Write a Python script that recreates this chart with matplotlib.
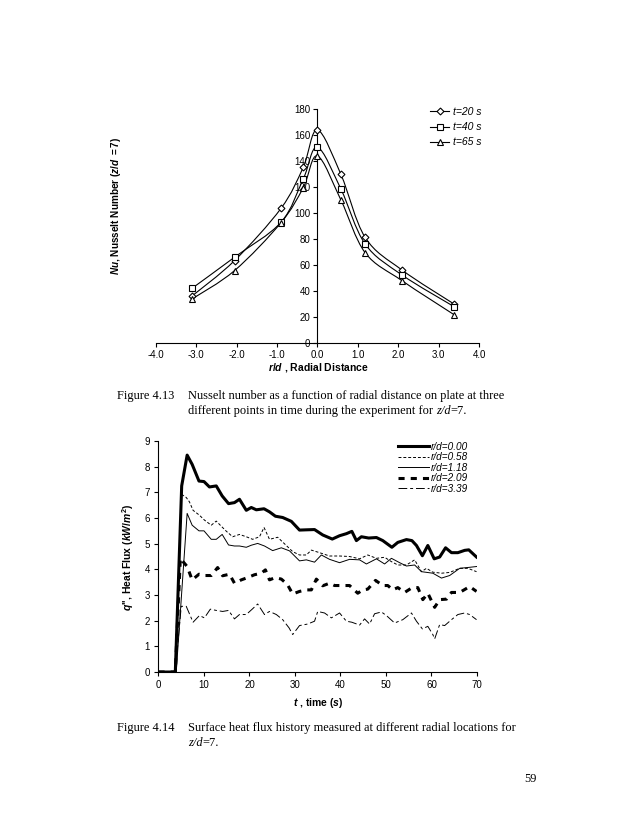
import matplotlib
matplotlib.use('Agg')
import matplotlib.pyplot as plt
from matplotlib.path import Path
from matplotlib.patches import PathPatch
from matplotlib.lines import Line2D

# --- Settings ---
plt.rcParams['font.family'] = ['Liberation Sans', 'DejaVu Sans']
plt.rcParams['axes.unicode_minus'] = False
plt.rcParams['mathtext.fontset'] = 'custom'
plt.rcParams['mathtext.rm'] = 'Liberation Sans:bold'
plt.rcParams['mathtext.it'] = 'Liberation Sans:italic:bold'
plt.rcParams['mathtext.bf'] = 'Liberation Sans:bold'

# --- Figure 4.13 data: Nusselt number vs r/d ---
rd = [-3.10, -2.05, -0.90, -0.35, 0.0, 0.58, 1.18, 2.09, 3.39]
nu_20 = [36.4, 63.6, 103.8, 135.4, 164.1, 130.0, 81.5, 56.4, 30.0]
nu_40 = [42.3, 66.2, 93.1, 126.4, 150.8, 118.7, 76.4, 52.6, 28.0]
nu_65 = [34.1, 55.9, 92.8, 119.7, 144.1, 110.3, 69.7, 48.2, 21.8]
nu_labels = ['t=20 s', 't=40 s', 't=65 s']

# --- Figure 4.14 data: heat flux histories ---
t_000 = [0, 3.7, 5.1, 6.3, 7.4, 8.9, 10.0, 11.2, 12.7, 14.0, 15.4, 16.7, 17.8, 19.3, 20.4,
         21.5, 23.2, 24.4, 25.7, 27.3, 29.2, 31.0, 32.5, 34.3, 36.1, 38.2, 39.8, 41.3,
         42.5, 43.5, 44.6, 46.2, 47.9, 49.3, 51.3, 52.6, 54.5, 55.7, 56.7, 58.0, 59.2,
         60.6, 61.8, 63.1, 64.4, 65.8, 67.3, 68.2, 69.9]
q_000 = [0, 0, 7.25, 8.45, 8.09, 7.44, 7.42, 7.21, 7.25, 6.86, 6.56, 6.60, 6.73, 6.30, 6.41,
         6.32, 6.36, 6.24, 6.07, 6.02, 5.87, 5.53, 5.54, 5.55, 5.34, 5.18, 5.31, 5.39,
         5.48, 5.12, 5.27, 5.22, 5.24, 5.12, 4.86, 5.05, 5.16, 5.12, 4.93, 4.53, 4.93,
         4.41, 4.48, 4.84, 4.65, 4.65, 4.74, 4.76, 4.48]

t_058 = [0, 3.7, 5.1, 6.1, 6.8, 7.6, 9.0, 10.1, 11.6, 12.7, 13.8, 15.0, 16.3, 17.8, 19.3,
         20.7, 22.2, 23.2, 24.4, 26.2, 29.5, 31.0, 32.5, 33.6, 35.4, 37.6, 39.8, 42.0,
         44.2, 46.0, 47.9, 49.7, 51.2, 52.6, 54.5, 56.3, 57.8, 58.9, 60.3, 62.2, 64.0,
         66.2, 68.0, 69.9]
q_058 = [0, 0, 6.92, 6.80, 6.63, 6.30, 6.11, 5.92, 5.72, 5.88, 5.68, 5.47, 5.27, 5.36, 5.27,
         5.17, 5.27, 5.63, 5.17, 5.25, 4.69, 4.56, 4.56, 4.75, 4.65, 4.52, 4.52, 4.50,
         4.41, 4.56, 4.43, 4.47, 4.30, 4.17, 4.17, 4.37, 3.91, 4.04, 3.89, 3.85, 3.88,
         4.04, 4.04, 3.91]

t_118 = [0, 3.9, 6.3, 7.4, 8.9, 10.0, 11.6, 12.7, 14.0, 15.4, 16.7, 17.8, 19.3, 20.4, 21.8,
         23.3, 25.1, 27.0, 28.8, 31.0, 32.5, 34.3, 35.8, 37.6, 39.8, 42.0, 44.2, 45.7,
         47.9, 49.7, 51.2, 53.0, 54.5, 56.3, 57.8, 60.3, 62.2, 64.0, 66.2, 68.4, 69.9]
q_118 = [0, 0, 6.18, 5.72, 5.50, 5.50, 5.17, 5.17, 5.36, 4.95, 4.91, 4.91, 4.86, 4.94, 5.01,
         4.91, 4.73, 4.84, 4.72, 4.33, 4.37, 4.28, 4.56, 4.39, 4.26, 4.39, 4.37, 4.21,
         4.41, 4.21, 4.43, 4.26, 4.13, 4.17, 3.91, 3.85, 3.66, 3.76, 4.04, 4.08, 4.11]

t_209 = [0, 3.7, 4.8, 5.4, 6.3, 7.4, 8.9, 10.1, 11.6, 13.0, 14.1, 15.6, 16.7, 18.2, 19.6,
         21.1, 22.6, 23.5, 24.4, 25.7, 27.0, 28.3, 29.5, 31.0, 32.5, 33.6, 34.7, 36.1,
         37.6, 38.7, 40.5, 42.0, 43.8, 44.9, 46.0, 47.7, 49.3, 50.4, 51.5, 52.6, 54.1,
         55.6, 57.0, 58.1, 59.2, 60.7, 61.8, 63.3, 64.4, 66.2, 68.4, 69.9]
q_209 = [0, 0, 4.43, 4.30, 4.11, 3.59, 3.81, 3.76, 3.76, 4.07, 3.75, 3.81, 3.46, 3.59, 3.68,
         3.79, 3.85, 3.98, 3.59, 3.68, 3.62, 3.42, 3.04, 3.14, 3.20, 3.20, 3.62, 3.36,
         3.46, 3.37, 3.37, 3.37, 3.07, 3.20, 3.23, 3.57, 3.37, 3.37, 3.20, 3.29, 3.10,
         3.27, 3.29, 2.82, 3.07, 2.52, 2.82, 2.84, 3.10, 3.10, 3.33, 3.14]

t_339 = [0, 3.7, 5.0, 6.1, 7.6, 9.0, 10.1, 11.4, 12.7, 14.1, 15.4, 16.7, 17.8, 19.3, 20.6,
         21.8, 23.3, 24.4, 25.9, 27.3, 28.7, 29.5, 31.0, 32.8, 34.3, 35.0, 36.5, 38.0,
         39.8, 41.3, 42.5, 44.2, 45.3, 46.4, 47.5, 49.0, 50.1, 51.9, 53.7, 55.6, 56.7,
         58.0, 59.2, 60.3, 60.7, 61.8, 62.9, 64.4, 65.8, 67.3, 68.4, 69.9]
q_339 = [0, 0, 2.56, 2.56, 1.94, 2.20, 2.11, 2.45, 2.40, 2.36, 2.40, 2.07, 2.24, 2.24, 2.45,
         2.65, 2.24, 2.36, 2.24, 2.04, 1.72, 1.46, 1.81, 1.87, 1.98, 2.36, 2.30, 2.11,
         2.30, 1.98, 1.94, 1.83, 2.07, 1.87, 2.27, 2.34, 2.20, 1.91, 2.04, 2.30, 1.98,
         1.68, 1.78, 1.46, 1.29, 1.85, 1.81, 2.04, 2.24, 2.30, 2.24, 2.04]
q_labels = ['r/d=0.00', 'r/d=0.58', 'r/d=1.18', 'r/d=2.09', 'r/d=3.39']


def smooth_path(xs, ys):
    """Excel-like smoothed line as cubic Bezier path through the points."""
    pts = list(zip(xs, ys))
    n = len(pts)
    verts = [pts[0]]
    codes = [Path.MOVETO]
    for i in range(n - 1):
        p0 = pts[i - 1] if i > 0 else pts[i]
        p1 = pts[i]
        p2 = pts[i + 1]
        p3 = pts[i + 2] if i + 2 < n else pts[i + 1]
        c1 = (p1[0] + (p2[0] - p0[0]) / 6, p1[1] + (p2[1] - p0[1]) / 6)
        c2 = (p2[0] - (p3[0] - p1[0]) / 6, p2[1] - (p3[1] - p1[1]) / 6)
        verts += [c1, c2, p2]
        codes += [Path.CURVE4] * 3
    return Path(verts, codes)


def rich_text(fig, x, y, pieces, size, family='Liberation Serif'):
    """Draw text pieces one after another (pixel x, pixel y from top)."""
    renderer = fig.canvas.get_renderer()
    xf = x
    H = fig.get_figheight() * fig.dpi
    W = fig.get_figwidth() * fig.dpi
    for s, style in pieces:
        t = fig.text(xf / W, 1 - y / H, s, fontsize=size, family=family,
                     style=style, va='center', ha='left')
        xf += t.get_window_extent(renderer).width


fig = plt.figure(figsize=(6.38, 8.26), dpi=100)

# --- Figure 4.13 ---
ax1 = fig.add_axes([0.244, 0.5844, 0.507, 0.2833])
markers = ['D', 's', '^']
msizes = [3.5, 5, 5]
for vals, m, ms, lab in zip([nu_20, nu_40, nu_65], markers, msizes, nu_labels):
    ax1.add_patch(PathPatch(smooth_path(rd, vals), facecolor='none',
                            edgecolor='black', lw=0.8))
    ax1.plot(rd, vals, ls='none', marker=m, ms=ms, mfc='white', mec='black',
             mew=0.8, zorder=3)
ax1.set_xlim(-4, 4)
ax1.set_ylim(0, 180)
ax1.set_xticks([-4, -3, -2, -1, 0, 1, 2, 3, 4])
ax1.set_xticklabels([f'{v:.1f}' for v in [-4, -3, -2, -1, 0, 1, 2, 3, 4]])
ax1.set_yticks(range(0, 181, 20))
ax1.spines['top'].set_visible(False)
ax1.spines['right'].set_visible(False)
ax1.spines['left'].set_position(('data', 0))
for sp in ['left', 'bottom']:
    ax1.spines[sp].set_linewidth(0.8)
ax1.tick_params(direction='out', length=3, width=0.8, labelsize=7, pad=2)
ax1.patch.set_alpha(0)
handles = [Line2D([], [], color='black', lw=0.8, marker=m, ms=ms, mfc='white',
                  mec='black', mew=0.8) for m, ms in zip(markers, msizes)]
ax1.legend(handles, nu_labels, loc='upper right', bbox_to_anchor=(1.035, 1.05),
           frameon=False, prop={'style': 'italic', 'size': 7.5},
           handlelength=1.9, handletextpad=0.3, labelspacing=0.5)
fig.text(116 / 638, 1 - 206 / 826, r'$Nu$, Nusselt Number $\mathit{(z/d\ =7)}$',
         rotation=90, ha='center', va='center', fontsize=7.2, fontweight='bold')
fig.text(318 / 638, 1 - 368 / 826, r'$r/d$ , Radial Distance',
         ha='center', va='center', fontsize=7.5, fontweight='bold')

# --- Figure 4.14 ---
ax2 = fig.add_axes([0.2484, 0.1864, 0.4992, 0.2797])
ax2.plot(t_000, q_000, color='black', lw=2.2)
ax2.plot(t_058, q_058, color='black', lw=0.7, dashes=(3, 2))
ax2.plot(t_118, q_118, color='black', lw=0.7)
ax2.plot(t_209, q_209, color='black', lw=2.2, dashes=(2, 2))
ax2.plot(t_339, q_339, color='black', lw=0.7, dashes=(9, 3, 3, 3))
ax2.set_xlim(0, 70)
ax2.set_ylim(0, 9)
ax2.set_xticks(range(0, 71, 10))
ax2.set_yticks(range(0, 10))
ax2.spines['top'].set_visible(False)
ax2.spines['right'].set_visible(False)
for sp in ['left', 'bottom']:
    ax2.spines[sp].set_linewidth(0.8)
ax2.tick_params(direction='out', length=3, width=0.8, labelsize=7, pad=3)
ax2.legend(q_labels, loc='upper right', bbox_to_anchor=(1.0, 1.035),
           frameon=False, prop={'style': 'italic', 'size': 7.2},
           handlelength=3.1, handletextpad=0.15, labelspacing=0.05)
fig.text(128 / 638, 1 - 557 / 826, r"$q$'', Heat Flux $\mathit{(kW/m^2)}$",
         rotation=90, ha='center', va='center', fontsize=7.5, fontweight='bold')
fig.text(318 / 638, 1 - 703 / 826, r'$t$ , time $\mathit{(s)}$',
         ha='center', va='center', fontsize=7.5, fontweight='bold')

# --- Captions ---
cap = 8.9
rich_text(fig, 117, 396, [('Figure 4.13', 'normal')], cap)
rich_text(fig, 188, 396, [('Nusselt number as a function of radial distance on plate at three', 'normal')], cap)
rich_text(fig, 188, 411, [('different points in time during the experiment for ', 'normal'),
                          ('z/d', 'italic'), ('=7.', 'normal')], cap)
rich_text(fig, 117, 728, [('Figure 4.14', 'normal')], cap)
rich_text(fig, 188, 728, [('Surface heat flux history measured at different radial locations for', 'normal')], cap)
rich_text(fig, 188, 743, [('z/d', 'italic'), ('=7.', 'normal')], cap)
rich_text(fig, 524, 779, [('59', 'normal')], cap)

fig.savefig('out.png', dpi=100)
